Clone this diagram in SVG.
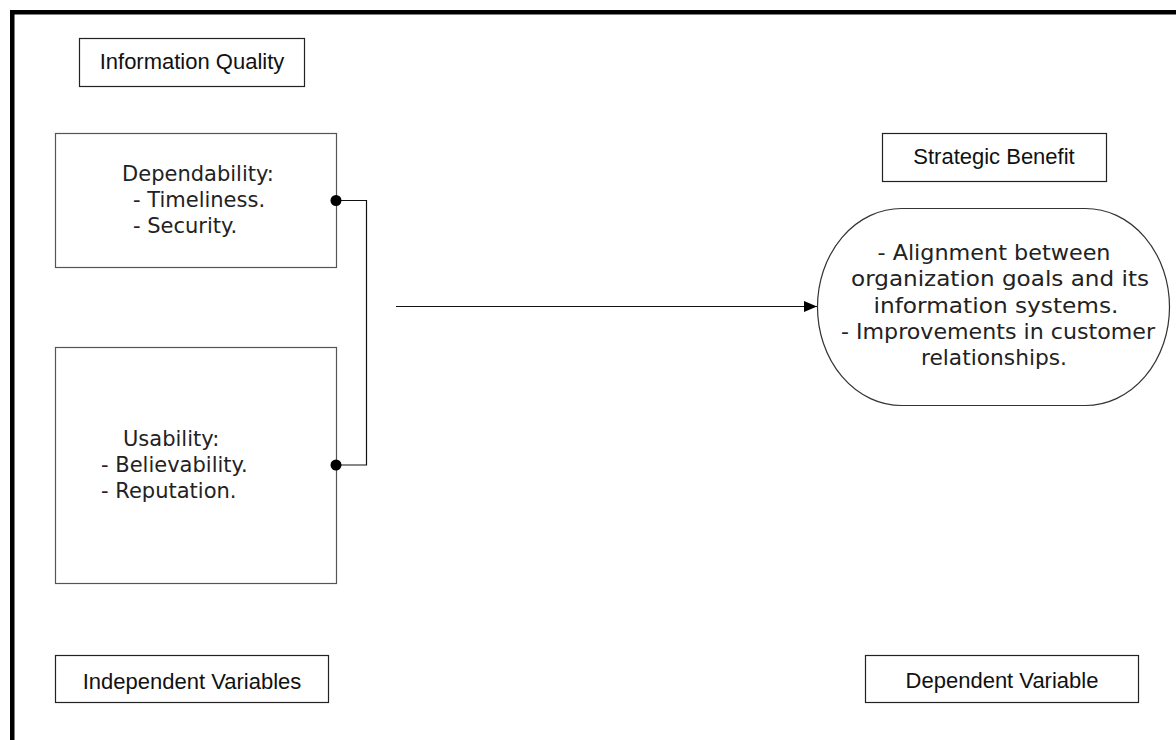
<svg xmlns="http://www.w3.org/2000/svg" width="1176" height="740" viewBox="0 0 1176 740">
<defs>
<marker id="arrow" markerWidth="14" markerHeight="12" refX="13" refY="5.5" orient="auto" markerUnits="userSpaceOnUse">
<path d="M0,0 L13,5.5 L0,11 Z" fill="#000"/>
</marker>
<style>
.lbl{fill:#fff;stroke:#222;stroke-width:1.2}
.lbltxt{font-family:"Liberation Sans",Arial,sans-serif;font-size:22px;fill:#111;text-anchor:middle}
.node{fill:#fff;stroke:#555;stroke-width:1.2}
.ntxt{font-family:"DejaVu Sans",sans-serif;font-size:21px;fill:#222}
.otxt{font-family:"DejaVu Sans",sans-serif;font-size:21.5px;fill:#222;text-anchor:middle}
.conn{fill:none;stroke:#111;stroke-width:1.2}
</style>
</defs>
<rect width="1176" height="740" fill="#fff"/>
<path d="M12.25,745 V12.25 H1180" fill="none" stroke="#000" stroke-width="4.5"/>

<g id="info-quality">
<rect class="lbl" x="79.5" y="38.5" width="225" height="48"/>
<text class="lbltxt" x="192" y="69">Information Quality</text>
</g>

<g id="dependability">
<rect class="node" x="55.5" y="133.5" width="281" height="134"/>
<text class="ntxt" x="198" y="181" text-anchor="middle">Dependability:</text>
<text class="ntxt" x="133" y="207">- Timeliness.</text>
<text class="ntxt" x="133" y="233">- Security.</text>
</g>

<g id="usability">
<rect class="node" x="55.5" y="347.5" width="281" height="236"/>
<text class="ntxt" x="123" y="446">Usability:</text>
<text class="ntxt" x="101" y="472">- Believability.</text>
<text class="ntxt" x="101" y="498">- Reputation.</text>
</g>

<g id="independent-variables">
<rect class="lbl" x="55.5" y="655.5" width="273" height="47"/>
<text class="lbltxt" x="192" y="689">Independent Variables</text>
</g>

<g id="strategic-benefit">
<rect class="lbl" x="882.5" y="133.5" width="224" height="48"/>
<text class="lbltxt" x="994" y="164">Strategic Benefit</text>
</g>

<g id="benefit-oval">
<rect x="817.5" y="208.5" width="352" height="197" rx="84" ry="98.5" fill="#fff" stroke="#333" stroke-width="1.2"/>
<text class="otxt" x="994" y="260" textLength="233" lengthAdjust="spacingAndGlyphs">- Alignment between</text>
<text class="otxt" x="1000" y="286.3" textLength="298" lengthAdjust="spacingAndGlyphs">organization goals and its</text>
<text class="otxt" x="996" y="312.6" textLength="245" lengthAdjust="spacingAndGlyphs">information systems.</text>
<text class="otxt" x="998" y="338.9" textLength="314" lengthAdjust="spacingAndGlyphs">- Improvements in customer</text>
<text class="otxt" x="994" y="365.2" textLength="146" lengthAdjust="spacingAndGlyphs">relationships.</text>
</g>

<g id="dependent-variable">
<rect class="lbl" x="865.5" y="655.5" width="273" height="47"/>
<text class="lbltxt" x="1002" y="688">Dependent Variable</text>
</g>

<g id="connectors">
<path class="conn" d="M336,200.5 H366.5 V465 H336"/>
<circle cx="336" cy="200.5" r="5.5" fill="#000"/>
<circle cx="336" cy="465" r="5.5" fill="#000"/>
<line class="conn" x1="396" y1="306.5" x2="817" y2="306.5" marker-end="url(#arrow)"/>
</g>
</svg>
